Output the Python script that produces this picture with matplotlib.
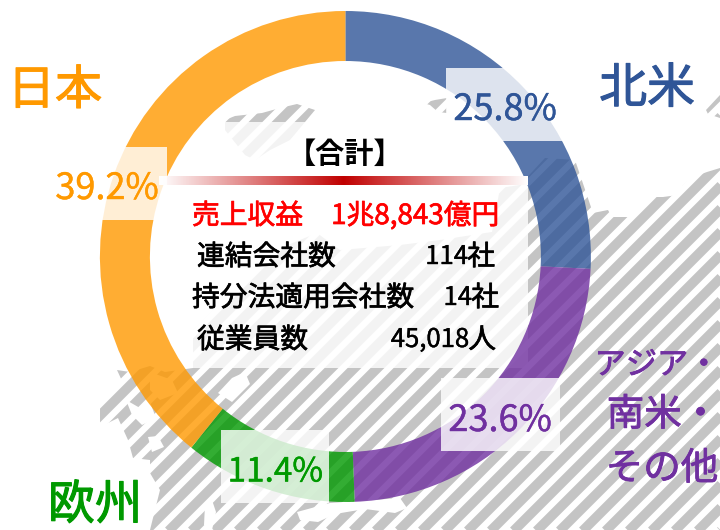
import numpy as np
import matplotlib
matplotlib.use("Agg")
import matplotlib.pyplot as plt
import matplotlib.patheffects as pe
from matplotlib.collections import LineCollection
from matplotlib.patches import Polygon, PathPatch, Rectangle
from matplotlib.path import Path
from matplotlib.colors import LinearSegmentedColormap

plt.rcParams['font.family'] = ['Noto Sans CJK JP', 'DejaVu Sans']

# shares, clockwise from the top of the ring
regions = ['北米', 'アジア・\n南米・\nその他', '欧州', '日本']
shares = [25.8, 23.6, 11.4, 39.2]
ring_colors = ['#2F5597', '#7030A0', '#009900', '#FF9900']

# summary table
total_title = '【合計】'
revenue_label = '売上収益'
revenue_value = '1兆8,843億円'
stat_labels = ['連結会社数', '持分法適用会社数', '従業員数']
stat_numbers = ['114', '14', '45,018']
stat_units = ['社', '社', '人']

# background map, rough outline in pixels
land_main = [(720, 168), (707, 172), (693, 177), (683, 185), (678, 195), (663, 197), (650, 197),
             (642, 205), (642, 210), (632, 217), (612, 217), (608, 210), (593, 213), (575, 160),
             (545, 158), (520, 185), (500, 188), (492, 232), (440, 240), (400, 245), (340, 250),
             (317, 233), (283, 247), (250, 280), (217, 307), (193, 330), (193, 368), (165, 372),
             (150, 366), (130, 372), (117, 370), (123, 383), (100, 407), (100, 427), (118, 418),
             (128, 440), (133, 458), (150, 460), (150, 473), (160, 490), (155, 510), (150, 530),
             (720, 530)]
land_top = [(225, 120), (235, 116), (262, 113), (280, 108), (297, 104), (315, 110), (305, 122),
            (290, 140), (270, 150), (255, 160), (245, 155), (225, 130)]
land_mid = [(423, 103), (435, 100), (447, 98), (447, 113), (438, 112), (430, 105)]
land_corner = [(706, 110), (720, 95), (720, 118), (708, 114)]
holes = [[(297, 512), (330, 503), (400, 498), (407, 508), (395, 513), (365, 509), (335, 514), (318, 522), (300, 520)],
         [(205, 505), (212, 500), (216, 512), (212, 530), (204, 525)],
         [(126, 400), (140, 408), (150, 402), (156, 418), (142, 425), (132, 415)],
         [(150, 372), (172, 380), (178, 393), (160, 400), (150, 390)],
         [(218, 393), (232, 378), (245, 372), (250, 384), (232, 402)],
         [(148, 437), (158, 436), (164, 447), (152, 452)]]

fig = plt.figure(figsize=(7.2, 5.3), dpi=100)
ax = fig.add_axes([0, 0, 1, 1])

# hatched map
stripe_c = 860.5 + 23 * np.arange(-34, 26)
stripes = [[(c, 0), (c - 720, 720)] for c in stripe_c]
lc = LineCollection(stripes, colors='#C4C4C4', linewidths=7.0, zorder=1)
ax.add_collection(lc)
land = Path.make_compound_path(*[Path(p + [p[0]]) for p in (land_main, land_top, land_mid, land_corner)])
clip = PathPatch(land, transform=ax.transData, facecolor='none', edgecolor='none')
ax.add_patch(clip)
lc.set_clip_path(clip)
for h in holes:
    ax.add_patch(Polygon(h, facecolor='white', edgecolor='none', zorder=1.5))

# white panel behind the table
ax.add_patch(Rectangle((159, 122), 369, 246, facecolor='white', alpha=0.8, edgecolor='none', zorder=2))

# ring
ax.pie(shares, colors=ring_colors, startangle=-90, counterclock=True, center=(345.4, 256.5), radius=245.5,
       wedgeprops=dict(width=50, alpha=0.8, linewidth=0, zorder=3), frame=True)
ax.axis('off')

# gradient rule under the title
cmap = LinearSegmentedColormap.from_list('rule', ['#FFFFFF', '#C00000', '#FFFFFF'])
ax.imshow(np.linspace(0, 1, 256).reshape(1, -1), cmap=cmap, extent=(159, 528, 185, 176), aspect='auto', zorder=4)
ax.set_aspect('auto')
ax.set_xlim(0, 720)
ax.set_ylim(530, 0)


def heavy(col, w=0.5):
    # no medium weight in the font, thicken the regular one a little
    return [pe.withStroke(linewidth=w, foreground=col)]


# value labels on translucent boxes
label_boxes = [(446, 68, 119, 73), (441, 378, 119, 73), (221, 430, 108, 73), (48, 147, 119, 73)]
label_pos = [(505, 110), (500, 421), (275, 472), (107, 189)]
label_size = [26, 26, 24, 26]
for share, col, box, pos, size in zip(shares, ring_colors, label_boxes, label_pos, label_size):
    ax.add_patch(Rectangle(box[:2], box[2], box[3], facecolor='white', alpha=0.8, edgecolor='none', zorder=5))
    ax.text(pos[0], pos[1], f'{share}%', color=col, fontsize=size, ha='center', va='center', zorder=6,
            path_effects=heavy(col, 0.3))

# region names
name_pos = [(647, 89), None, (95, 506), (55, 91)]
name_size = [34.5, None, 34, 34]
for name, col, pos, size in zip(regions, ring_colors, name_pos, name_size):
    if pos is None:
        continue
    ax.text(pos[0], pos[1], name, color=col, fontsize=size, ha='center', va='center', zorder=6,
            path_effects=heavy(col, 0.8))
# the long name is set line by line, its first line runs up to the edge
purple_lines = regions[1].split('\n')
purple_x = [657, 663, 662]
purple_y = [365, 415, 469]
purple_size = [22.5, 27, 27]
for line, x, y, size in zip(purple_lines, purple_x, purple_y, purple_size):
    ax.text(x, y, line, color=ring_colors[1], fontsize=size, ha='center', va='center', zorder=6,
            path_effects=heavy(ring_colors[1], 0.6))

# table text
ax.text(345, 154, total_title, fontsize=21, fontweight='bold', ha='center', va='center', zorder=6)
ax.text(192, 216, revenue_label, color='#FF0000', fontsize=20, va='center', zorder=6, path_effects=heavy('#FF0000'))
ax.text(499, 216, revenue_value, color='#FF0000', fontsize=20, ha='right', va='center', zorder=6,
        path_effects=heavy('#FF0000'))
stat_y = [257, 298, 340]
stat_left = [197, 192, 197]
stat_right = [495, 499, 496]
for lab, num, unit, y, xl, xr in zip(stat_labels, stat_numbers, stat_units, stat_y, stat_left, stat_right):
    ax.text(xl, y, lab, fontsize=20, va='center', zorder=6, path_effects=heavy('black'))
    ax.text(xr, y, unit, fontsize=20, ha='right', va='center', zorder=6, path_effects=heavy('black'))
    ax.text(xr - 27, y, num, fontsize=18.5, ha='right', va='center', zorder=6, path_effects=heavy('black', 0.3))

fig.savefig('out.png', dpi=100)
